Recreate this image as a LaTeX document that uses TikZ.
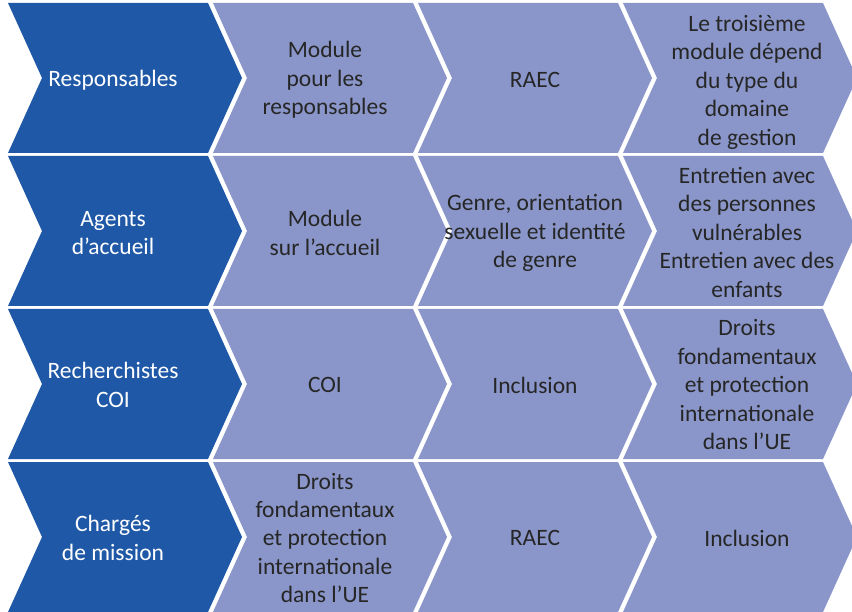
\documentclass[tikz,border=0pt]{standalone}
\usepackage{fontspec}
\setmainfont{Carlito}
\definecolor{chevdark}{RGB}{31,88,166}
\definecolor{chevlight}{RGB}{138,150,201}
\definecolor{chevtext}{RGB}{38,38,38}

\begin{document}
\begin{tikzpicture}[x=1pt, y=-1pt,
    lbl/.style={align=center, text=chevtext, inner sep=0pt,
        font=\fontsize{23.5}{28.5}\selectfont},
    lblw/.style={lbl, text=white}]

    % Chevron sizes (in pixels of the reference)
    \def\xo{8}
    \def\yo{3}
    \def\w{200}
    \def\d{34}
    \def\h{150}
    \def\dx{205}
    \def\dy{153}

    \useasboundingbox (0,0) rectangle (852,612);
    \clip (0,0) rectangle (852,612);

    % Draw chevrons
    \foreach \r in {0,...,3}
        \foreach \c/\col in {0/chevdark,1/chevlight,2/chevlight,3/chevlight}
            \fill[\col] ({\xo+\c*\dx},{\yo+\r*\dy}) -- ++(\w,0) -- ++(\d,\h/2)
                -- ++(-\d,\h/2) -- ++(-\w,0) -- ++(\d,-\h/2) -- cycle;

    % Row 1
    \node[lblw] (resp) at (113,80) {Responsables};
    \node[lbl] (modresp) at (325,80) {Module\\pour les\\responsables};
    \node[lbl] (raecA) at (535,80) {RAEC};
    \node[lbl] (troisieme) at (747,82) {Le troisième\\module dépend\\du type du\\domaine\\de gestion};

    % Row 2
    \node[lblw] (agents) at (113,233) {Agents\\d’accueil};
    \node[lbl] (modaccueil) at (325,233) {Module\\sur l’accueil};
    \node[lbl] (genre) at (535,233) {Genre, orientation\\sexuelle et identité\\de genre};
    \node[lbl] (entretien) at (747,232) {Entretien avec\\des personnes\\vulnérables\\Entretien avec des\\enfants};

    % Row 3
    \node[lblw] (recherch) at (113,385) {Recherchistes\\COI};
    \node[lbl] (coi) at (325,385) {COI};
    \node[lbl] (inclA) at (535,385) {Inclusion};
    \node[lbl] (droitsA) at (747,385) {Droits\\fondamentaux\\et protection\\internationale\\dans l’UE};

    % Row 4
    \node[lblw] (charges) at (113,538) {Chargés\\de mission};
    \node[lbl] (droitsB) at (325,538) {Droits\\fondamentaux\\et protection\\internationale\\dans l’UE};
    \node[lbl] (raecB) at (535,538) {RAEC};
    \node[lbl] (inclB) at (747,538) {Inclusion};

\end{tikzpicture}
\end{document}
